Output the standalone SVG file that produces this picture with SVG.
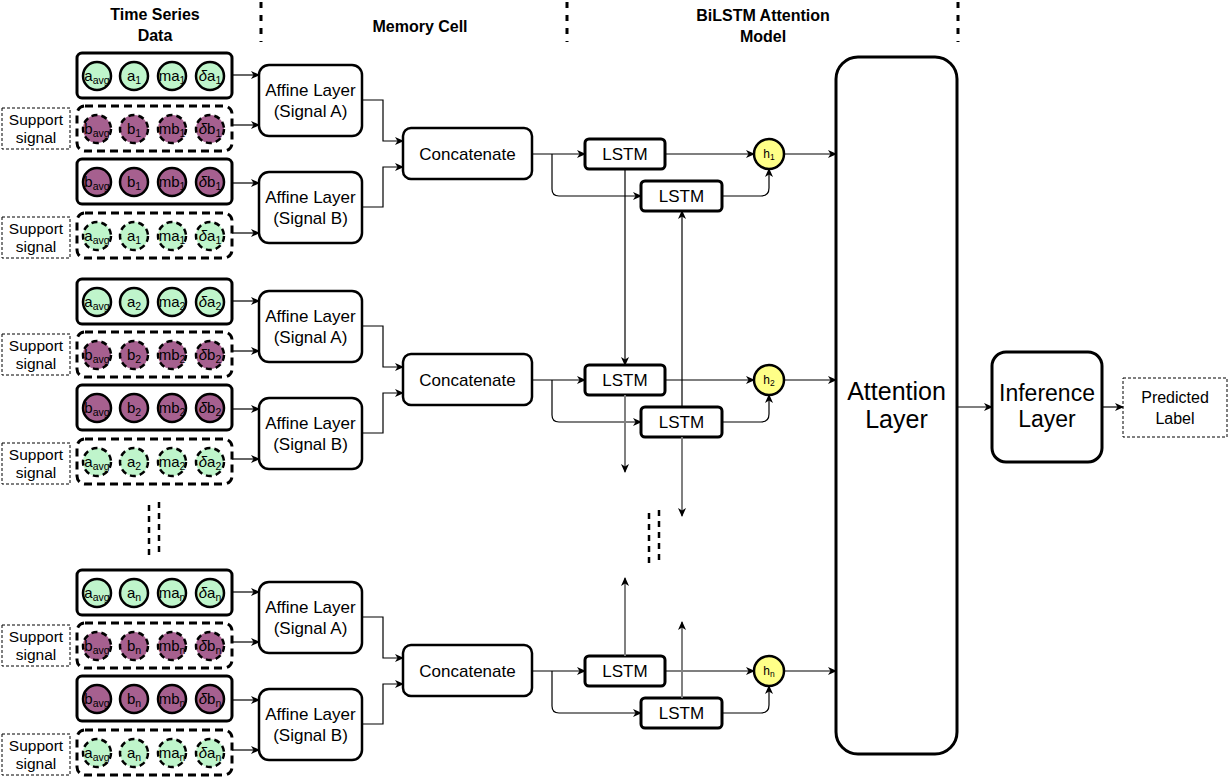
<svg xmlns="http://www.w3.org/2000/svg" width="1228" height="777" viewBox="0 0 1228 777">
<style>
text{font-family:"Liberation Sans",Arial,Helvetica,sans-serif;fill:#000;text-anchor:middle}
.hd{font-size:16px;font-weight:bold}
.row{fill:#fff;stroke:#000;stroke-width:3}
.rowd{fill:#fff;stroke:#000;stroke-width:3;stroke-dasharray:8 5}
.cg{fill:#bff5cb;stroke:#000;stroke-width:2.5}
.cp{fill:#a6608f;stroke:#000;stroke-width:2.5}
.cd{stroke-dasharray:6 4}
.ct{font-size:15px}
.sb{font-size:10.5px}
.it{font-style:italic}
.sup{fill:#fff;stroke:#000;stroke-width:1;stroke-dasharray:3 2}
.sup-t{font-size:15.5px}
.box{fill:#fff;stroke:#000;stroke-width:2.5}
.lstm{fill:#fff;stroke:#000;stroke-width:3}
.bt{font-size:17px}
.hc{fill:#ffff88;stroke:#000;stroke-width:2.5}
.ht{font-size:12px}
.hs{font-size:8.5px}
.sep{stroke:#000;stroke-width:3;stroke-dasharray:6 7;fill:none}
.ell{stroke:#000;stroke-width:2.5;stroke-dasharray:6 5;fill:none}
.c{fill:none;stroke:#000;stroke-width:1.2;marker-end:url(#arr)}
.g{fill:none;stroke:#808080;stroke-width:2;marker-end:url(#arr)}
</style>
<defs>
<marker id="arr" markerUnits="userSpaceOnUse" markerWidth="10" markerHeight="8" refX="8" refY="4" orient="auto">
<path d="M0,0 L9,4 L0,8 L2.5,4 Z" fill="#000"/>
</marker>
</defs>
<rect width="1228" height="777" fill="#fff"/>

<g id="headers">
<text class="hd" x="155" y="20">Time Series</text>
<text class="hd" x="155" y="41">Data</text>
<text class="hd" x="420" y="32">Memory Cell</text>
<text class="hd" x="763" y="21">BiLSTM Attention</text>
<text class="hd" x="763" y="42">Model</text>
<line class="sep" x1="261" y1="2" x2="261" y2="42"/>
<line class="sep" x1="567" y1="2" x2="567" y2="42"/>
<line class="sep" x1="958" y1="2" x2="958" y2="42"/>
</g>

<!-- ===== Group 1 ===== -->
<g id="row-a1">
<rect class="row" x="77" y="53" width="155" height="45" rx="5"/>
<circle class="cg" cx="97" cy="76" r="14"/><text class="ct" x="97" y="81">a<tspan class="sb" dy="3">avg</tspan></text>
<circle class="cg" cx="134" cy="76" r="14"/><text class="ct" x="134" y="81">a<tspan class="sb" dy="3">1</tspan></text>
<circle class="cg" cx="172" cy="76" r="14"/><text class="ct" x="172" y="81">ma<tspan class="sb" dy="3">1</tspan></text>
<circle class="cg" cx="210" cy="76" r="14"/><text class="ct" x="210" y="81"><tspan class="it">δ</tspan>a<tspan class="sb" dy="3">1</tspan></text>
</g>
<g id="row-b1-support">
<rect class="rowd" x="77" y="106" width="155" height="45" rx="8"/>
<circle class="cp cd" cx="97" cy="129" r="14"/><text class="ct" x="97" y="134">b<tspan class="sb" dy="3">avg</tspan></text>
<circle class="cp cd" cx="134" cy="129" r="14"/><text class="ct" x="134" y="134">b<tspan class="sb" dy="3">1</tspan></text>
<circle class="cp cd" cx="172" cy="129" r="14"/><text class="ct" x="172" y="134">mb<tspan class="sb" dy="3">1</tspan></text>
<circle class="cp cd" cx="210" cy="129" r="14"/><text class="ct" x="210" y="134"><tspan class="it">δ</tspan>b<tspan class="sb" dy="3">1</tspan></text>
</g>
<g id="row-b1">
<rect class="row" x="77" y="159" width="155" height="45" rx="5"/>
<circle class="cp" cx="97" cy="182" r="14"/><text class="ct" x="97" y="187">b<tspan class="sb" dy="3">avg</tspan></text>
<circle class="cp" cx="134" cy="182" r="14"/><text class="ct" x="134" y="187">b<tspan class="sb" dy="3">1</tspan></text>
<circle class="cp" cx="172" cy="182" r="14"/><text class="ct" x="172" y="187">mb<tspan class="sb" dy="3">1</tspan></text>
<circle class="cp" cx="210" cy="182" r="14"/><text class="ct" x="210" y="187"><tspan class="it">δ</tspan>b<tspan class="sb" dy="3">1</tspan></text>
</g>
<g id="row-a1-support">
<rect class="rowd" x="77" y="213" width="155" height="45" rx="8"/>
<circle class="cg cd" cx="97" cy="236" r="14"/><text class="ct" x="97" y="241">a<tspan class="sb" dy="3">avg</tspan></text>
<circle class="cg cd" cx="134" cy="236" r="14"/><text class="ct" x="134" y="241">a<tspan class="sb" dy="3">1</tspan></text>
<circle class="cg cd" cx="172" cy="236" r="14"/><text class="ct" x="172" y="241">ma<tspan class="sb" dy="3">1</tspan></text>
<circle class="cg cd" cx="210" cy="236" r="14"/><text class="ct" x="210" y="241"><tspan class="it">δ</tspan>a<tspan class="sb" dy="3">1</tspan></text>
</g>
<g id="support-1a"><rect class="sup" x="2" y="108" width="68" height="41"/><text class="sup-t" x="36" y="125">Support</text><text class="sup-t" x="36" y="143">signal</text></g>
<g id="support-1b"><rect class="sup" x="2" y="217" width="68" height="41"/><text class="sup-t" x="36" y="234">Support</text><text class="sup-t" x="36" y="252">signal</text></g>
<g id="affine-a1"><rect class="box" x="259" y="65" width="103" height="71" rx="10"/><text class="bt" x="310.5" y="96">Affine Layer</text><text class="bt" x="310.5" y="117">(Signal A)</text></g>
<g id="affine-b1"><rect class="box" x="259" y="172" width="103" height="71" rx="10"/><text class="bt" x="310.5" y="203">Affine Layer</text><text class="bt" x="310.5" y="224">(Signal B)</text></g>
<g id="concat-1"><rect class="box" x="403" y="128" width="129" height="51" rx="8"/><text class="bt" x="467.5" y="160">Concatenate</text></g>
<g id="lstm-f1"><rect class="lstm" x="585" y="139" width="80" height="30" rx="4"/><text class="bt" x="625" y="160">LSTM</text></g>
<g id="lstm-b1"><rect class="lstm" x="641" y="181" width="81" height="30" rx="4"/><text class="bt" x="681.5" y="202">LSTM</text></g>
<g id="h-1"><circle class="hc" cx="769" cy="154" r="15"/><text class="ht" x="769" y="158">h<tspan class="hs" dy="2">1</tspan></text></g>

<!-- ===== Group 2 ===== -->
<g id="row-a2">
<rect class="row" x="77" y="279" width="155" height="45" rx="5"/>
<circle class="cg" cx="97" cy="302" r="14"/><text class="ct" x="97" y="307">a<tspan class="sb" dy="3">avg</tspan></text>
<circle class="cg" cx="134" cy="302" r="14"/><text class="ct" x="134" y="307">a<tspan class="sb" dy="3">2</tspan></text>
<circle class="cg" cx="172" cy="302" r="14"/><text class="ct" x="172" y="307">ma<tspan class="sb" dy="3">2</tspan></text>
<circle class="cg" cx="210" cy="302" r="14"/><text class="ct" x="210" y="307"><tspan class="it">δ</tspan>a<tspan class="sb" dy="3">2</tspan></text>
</g>
<g id="row-b2-support">
<rect class="rowd" x="77" y="332" width="155" height="45" rx="8"/>
<circle class="cp cd" cx="97" cy="355" r="14"/><text class="ct" x="97" y="360">b<tspan class="sb" dy="3">avg</tspan></text>
<circle class="cp cd" cx="134" cy="355" r="14"/><text class="ct" x="134" y="360">b<tspan class="sb" dy="3">2</tspan></text>
<circle class="cp cd" cx="172" cy="355" r="14"/><text class="ct" x="172" y="360">mb<tspan class="sb" dy="3">2</tspan></text>
<circle class="cp cd" cx="210" cy="355" r="14"/><text class="ct" x="210" y="360"><tspan class="it">δ</tspan>b<tspan class="sb" dy="3">2</tspan></text>
</g>
<g id="row-b2">
<rect class="row" x="77" y="385" width="155" height="45" rx="5"/>
<circle class="cp" cx="97" cy="408" r="14"/><text class="ct" x="97" y="413">b<tspan class="sb" dy="3">avg</tspan></text>
<circle class="cp" cx="134" cy="408" r="14"/><text class="ct" x="134" y="413">b<tspan class="sb" dy="3">2</tspan></text>
<circle class="cp" cx="172" cy="408" r="14"/><text class="ct" x="172" y="413">mb<tspan class="sb" dy="3">2</tspan></text>
<circle class="cp" cx="210" cy="408" r="14"/><text class="ct" x="210" y="413"><tspan class="it">δ</tspan>b<tspan class="sb" dy="3">2</tspan></text>
</g>
<g id="row-a2-support">
<rect class="rowd" x="77" y="439" width="155" height="45" rx="8"/>
<circle class="cg cd" cx="97" cy="462" r="14"/><text class="ct" x="97" y="467">a<tspan class="sb" dy="3">avg</tspan></text>
<circle class="cg cd" cx="134" cy="462" r="14"/><text class="ct" x="134" y="467">a<tspan class="sb" dy="3">2</tspan></text>
<circle class="cg cd" cx="172" cy="462" r="14"/><text class="ct" x="172" y="467">ma<tspan class="sb" dy="3">2</tspan></text>
<circle class="cg cd" cx="210" cy="462" r="14"/><text class="ct" x="210" y="467"><tspan class="it">δ</tspan>a<tspan class="sb" dy="3">2</tspan></text>
</g>
<g id="support-2a"><rect class="sup" x="2" y="334" width="68" height="41"/><text class="sup-t" x="36" y="351">Support</text><text class="sup-t" x="36" y="369">signal</text></g>
<g id="support-2b"><rect class="sup" x="2" y="443" width="68" height="41"/><text class="sup-t" x="36" y="460">Support</text><text class="sup-t" x="36" y="478">signal</text></g>
<g id="affine-a2"><rect class="box" x="259" y="291" width="103" height="71" rx="10"/><text class="bt" x="310.5" y="322">Affine Layer</text><text class="bt" x="310.5" y="343">(Signal A)</text></g>
<g id="affine-b2"><rect class="box" x="259" y="398" width="103" height="71" rx="10"/><text class="bt" x="310.5" y="429">Affine Layer</text><text class="bt" x="310.5" y="450">(Signal B)</text></g>
<g id="concat-2"><rect class="box" x="403" y="354" width="129" height="51" rx="8"/><text class="bt" x="467.5" y="386">Concatenate</text></g>
<g id="lstm-f2"><rect class="lstm" x="585" y="365" width="80" height="30" rx="4"/><text class="bt" x="625" y="386">LSTM</text></g>
<g id="lstm-b2"><rect class="lstm" x="641" y="407" width="81" height="30" rx="4"/><text class="bt" x="681.5" y="428">LSTM</text></g>
<g id="h-2"><circle class="hc" cx="769" cy="380" r="15"/><text class="ht" x="769" y="384">h<tspan class="hs" dy="2">2</tspan></text></g>

<!-- ===== Group n ===== -->
<g id="row-an">
<rect class="row" x="77" y="570" width="155" height="45" rx="5"/>
<circle class="cg" cx="97" cy="593" r="14"/><text class="ct" x="97" y="598">a<tspan class="sb" dy="3">avg</tspan></text>
<circle class="cg" cx="134" cy="593" r="14"/><text class="ct" x="134" y="598">a<tspan class="sb" dy="3">n</tspan></text>
<circle class="cg" cx="172" cy="593" r="14"/><text class="ct" x="172" y="598">ma<tspan class="sb" dy="3">n</tspan></text>
<circle class="cg" cx="210" cy="593" r="14"/><text class="ct" x="210" y="598"><tspan class="it">δ</tspan>a<tspan class="sb" dy="3">n</tspan></text>
</g>
<g id="row-bn-support">
<rect class="rowd" x="77" y="623" width="155" height="45" rx="8"/>
<circle class="cp cd" cx="97" cy="646" r="14"/><text class="ct" x="97" y="651">b<tspan class="sb" dy="3">avg</tspan></text>
<circle class="cp cd" cx="134" cy="646" r="14"/><text class="ct" x="134" y="651">b<tspan class="sb" dy="3">n</tspan></text>
<circle class="cp cd" cx="172" cy="646" r="14"/><text class="ct" x="172" y="651">mb<tspan class="sb" dy="3">n</tspan></text>
<circle class="cp cd" cx="210" cy="646" r="14"/><text class="ct" x="210" y="651"><tspan class="it">δ</tspan>b<tspan class="sb" dy="3">n</tspan></text>
</g>
<g id="row-bn">
<rect class="row" x="77" y="676" width="155" height="45" rx="5"/>
<circle class="cp" cx="97" cy="699" r="14"/><text class="ct" x="97" y="704">b<tspan class="sb" dy="3">avg</tspan></text>
<circle class="cp" cx="134" cy="699" r="14"/><text class="ct" x="134" y="704">b<tspan class="sb" dy="3">n</tspan></text>
<circle class="cp" cx="172" cy="699" r="14"/><text class="ct" x="172" y="704">mb<tspan class="sb" dy="3">n</tspan></text>
<circle class="cp" cx="210" cy="699" r="14"/><text class="ct" x="210" y="704"><tspan class="it">δ</tspan>b<tspan class="sb" dy="3">n</tspan></text>
</g>
<g id="row-an-support">
<rect class="rowd" x="77" y="730" width="155" height="45" rx="8"/>
<circle class="cg cd" cx="97" cy="753" r="14"/><text class="ct" x="97" y="758">a<tspan class="sb" dy="3">avg</tspan></text>
<circle class="cg cd" cx="134" cy="753" r="14"/><text class="ct" x="134" y="758">a<tspan class="sb" dy="3">n</tspan></text>
<circle class="cg cd" cx="172" cy="753" r="14"/><text class="ct" x="172" y="758">ma<tspan class="sb" dy="3">n</tspan></text>
<circle class="cg cd" cx="210" cy="753" r="14"/><text class="ct" x="210" y="758"><tspan class="it">δ</tspan>a<tspan class="sb" dy="3">n</tspan></text>
</g>
<g id="support-na"><rect class="sup" x="2" y="625" width="68" height="41"/><text class="sup-t" x="36" y="642">Support</text><text class="sup-t" x="36" y="660">signal</text></g>
<g id="support-nb"><rect class="sup" x="2" y="734" width="68" height="41"/><text class="sup-t" x="36" y="751">Support</text><text class="sup-t" x="36" y="769">signal</text></g>
<g id="affine-an"><rect class="box" x="259" y="582" width="103" height="71" rx="10"/><text class="bt" x="310.5" y="613">Affine Layer</text><text class="bt" x="310.5" y="634">(Signal A)</text></g>
<g id="affine-bn"><rect class="box" x="259" y="689" width="103" height="71" rx="10"/><text class="bt" x="310.5" y="720">Affine Layer</text><text class="bt" x="310.5" y="741">(Signal B)</text></g>
<g id="concat-n"><rect class="box" x="403" y="645" width="129" height="51" rx="8"/><text class="bt" x="467.5" y="677">Concatenate</text></g>
<g id="lstm-fn"><rect class="lstm" x="585" y="656" width="80" height="30" rx="4"/><text class="bt" x="625" y="677">LSTM</text></g>
<g id="lstm-bn"><rect class="lstm" x="641" y="698" width="81" height="30" rx="4"/><text class="bt" x="681.5" y="719">LSTM</text></g>
<g id="h-n"><circle class="hc" cx="769" cy="671" r="15"/><text class="ht" x="769" y="675">h<tspan class="hs" dy="2">n</tspan></text></g>

<!-- ===== Right side ===== -->
<g id="attention"><rect class="lstm" x="836" y="57" width="121" height="697" rx="22"/><text x="896.5" y="400" style="font-size:25px">Attention</text><text x="896.5" y="428" style="font-size:25px">Layer</text></g>
<g id="inference"><rect class="lstm" x="992" y="352" width="110" height="110" rx="14"/><text x="1047" y="401" style="font-size:23px">Inference</text><text x="1047" y="427" style="font-size:23px">Layer</text></g>
<g id="predicted"><rect class="sup" x="1123" y="378" width="104" height="59"/><text x="1175" y="403" style="font-size:16px">Predicted</text><text x="1175" y="424" style="font-size:16px">Label</text></g>

<g id="ellipsis">
<line class="ell" x1="149" y1="505" x2="149" y2="558"/>
<line class="ell" x1="159" y1="502" x2="159" y2="555"/>
<line class="ell" x1="649" y1="513" x2="649" y2="567"/>
<line class="ell" x1="659" y1="510" x2="659" y2="565"/>
</g>

<g id="connectors">
<!-- group 1 -->
<path class="c" d="M232,75 H259"/>
<path class="c" d="M232,125 H259"/>
<path class="c" d="M232,183 H259"/>
<path class="c" d="M232,233 H259"/>
<path class="c" d="M362,100 H383 V141 H403"/>
<path class="c" d="M362,207 H383 V167 H403"/>
<path class="c" d="M532,154 H585"/>
<path class="c" d="M552,154 V189 Q552,196 559,196 H641"/>
<path class="c" d="M665,154 H754"/>
<path class="c" d="M722,196 H761 Q769,196 769,188 V169"/>
<path class="c" d="M784,154 H836"/>
<!-- group 2 -->
<path class="c" d="M232,301 H259"/>
<path class="c" d="M232,351 H259"/>
<path class="c" d="M232,409 H259"/>
<path class="c" d="M232,459 H259"/>
<path class="c" d="M362,326 H383 V367 H403"/>
<path class="c" d="M362,433 H383 V393 H403"/>
<path class="c" d="M532,380 H585"/>
<path class="c" d="M552,380 V415 Q552,422 559,422 H641"/>
<path class="c" d="M665,380 H754"/>
<path class="c" d="M722,422 H761 Q769,422 769,414 V395"/>
<path class="c" d="M784,380 H836"/>
<!-- group n -->
<path class="c" d="M232,592 H259"/>
<path class="c" d="M232,642 H259"/>
<path class="c" d="M232,700 H259"/>
<path class="c" d="M232,750 H259"/>
<path class="c" d="M362,617 H383 V658 H403"/>
<path class="c" d="M362,724 H383 V684 H403"/>
<path class="c" d="M532,671 H585"/>
<path class="c" d="M552,671 V706 Q552,713 559,713 H641"/>
<path class="c" d="M665,671 H754"/>
<path class="c" d="M722,713 H761 Q769,713 769,705 V686"/>
<path class="c" d="M784,671 H836"/>
<!-- recurrent links -->
<path class="c" d="M625,169 V365"/>
<path class="c" d="M682,407 V211"/>
<path class="g" d="M625,395 V472"/>
<path class="g" d="M682,437 V516"/>
<path class="g" d="M625,656 V578"/>
<path class="g" d="M682,698 V622"/>
<!-- output -->
<path class="c" d="M957,407 H992"/>
<path class="c" d="M1102,407 H1123"/>
</g>
</svg>
